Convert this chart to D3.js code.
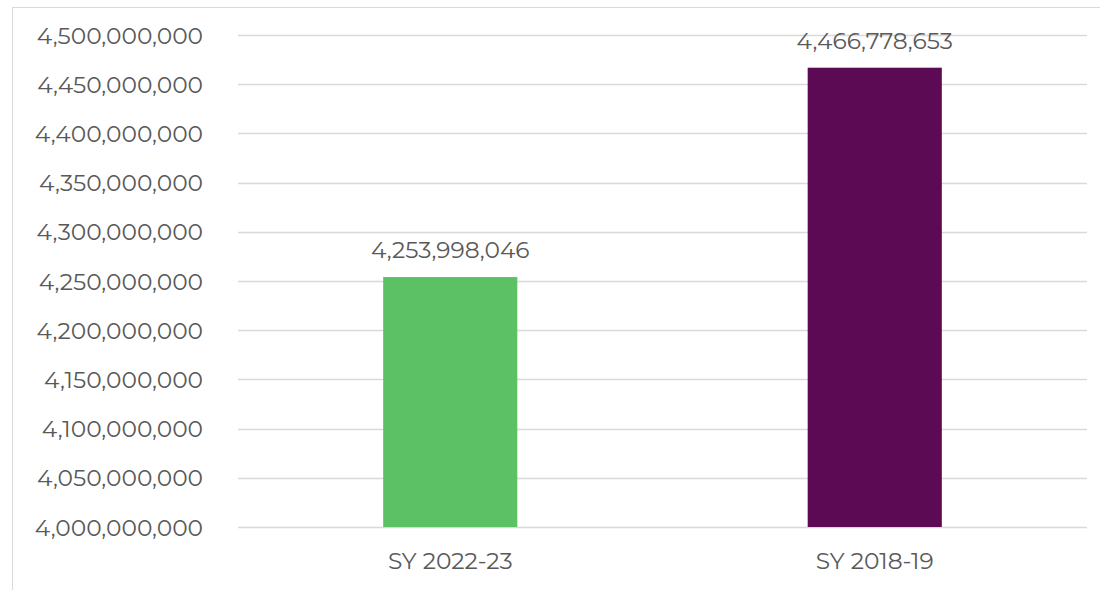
<!DOCTYPE html>
<html>
<head>
<meta charset="utf-8">
<script src="https://cdn.jsdelivr.net/npm/d3@7"></script>
<style>
  body { margin: 0; background: #fff; }
  text { font-family: "Montserrat", "Lato", "Open Sans", sans-serif; fill: #595959; }
</style>
</head>
<body>
<svg id="chart" width="1100" height="590"></svg>
<script>
// data
var categories = ["SY 2022-23", "SY 2018-19"];
var values = [4253998046, 4466778653];
var barColors = ["#5cc164", "#5c0a54"];
var yTicks = [4000000000, 4050000000, 4100000000, 4150000000, 4200000000,
              4250000000, 4300000000, 4350000000, 4400000000, 4450000000, 4500000000];

var svg = d3.select("#chart");

// outer border of the chart area
svg.append("rect")
    .attr("x", 12.5).attr("y", 7.5)
    .attr("width", 1100).attr("height", 600)
    .attr("fill", "none")
    .attr("stroke", "#d9d9d9");

var plotLeft = 238, plotRight = 1087, plotTop = 35, plotBottom = 527;

var x = d3.scaleBand()
    .domain(categories)
    .range([plotLeft, plotRight])
    .paddingInner(0.684)
    .paddingOuter(0.342);

var y = d3.scaleLinear()
    .domain([4000000000, 4500000000])
    .range([plotBottom, plotTop]);

var fmt = d3.format(",");

// gridlines
svg.append("g").selectAll("line")
    .data(yTicks)
    .enter().append("line")
    .attr("x1", plotLeft).attr("x2", plotRight)
    .attr("y1", function(d) { return Math.round(y(d)) + 0.5; })
    .attr("y2", function(d) { return Math.round(y(d)) + 0.5; })
    .attr("stroke", "#d9d9d9")
    .attr("stroke-width", 1.5);

// y axis labels
var yAxis = svg.append("g")
    .attr("transform", "translate(" + (plotLeft - 35) + ",0)")
    .call(d3.axisLeft(y).tickValues(yTicks).tickFormat(fmt).tickSize(0).tickPadding(0));
yAxis.select(".domain").remove();
yAxis.selectAll("text")
    .style("font-size", "23.3px")
    .attr("fill", "#595959")
    .attr("dy", "0.35em");

// bars
svg.append("g").selectAll("rect")
    .data(values)
    .enter().append("rect")
    .attr("x", function(d, i) { return x(categories[i]); })
    .attr("width", x.bandwidth())
    .attr("y", function(d) { return y(d); })
    .attr("height", function(d) { return y(4000000000) - y(d); })
    .attr("fill", function(d, i) { return barColors[i]; });

// value labels
svg.append("g").selectAll("text")
    .data(values)
    .enter().append("text")
    .attr("x", function(d, i) { return x(categories[i]) + x.bandwidth() / 2; })
    .attr("y", function(d) { return y(d) - 19; })
    .attr("text-anchor", "middle")
    .style("font-size", "23.3px")
    .text(function(d) { return fmt(d); });

// x axis labels
var xAxis = svg.append("g")
    .attr("transform", "translate(0," + plotBottom + ")")
    .call(d3.axisBottom(x).tickSize(0).tickPadding(25));
xAxis.select(".domain").remove();
xAxis.selectAll("text")
    .style("font-size", "23.3px")
    .attr("fill", "#595959");
</script>
</body>
</html>
